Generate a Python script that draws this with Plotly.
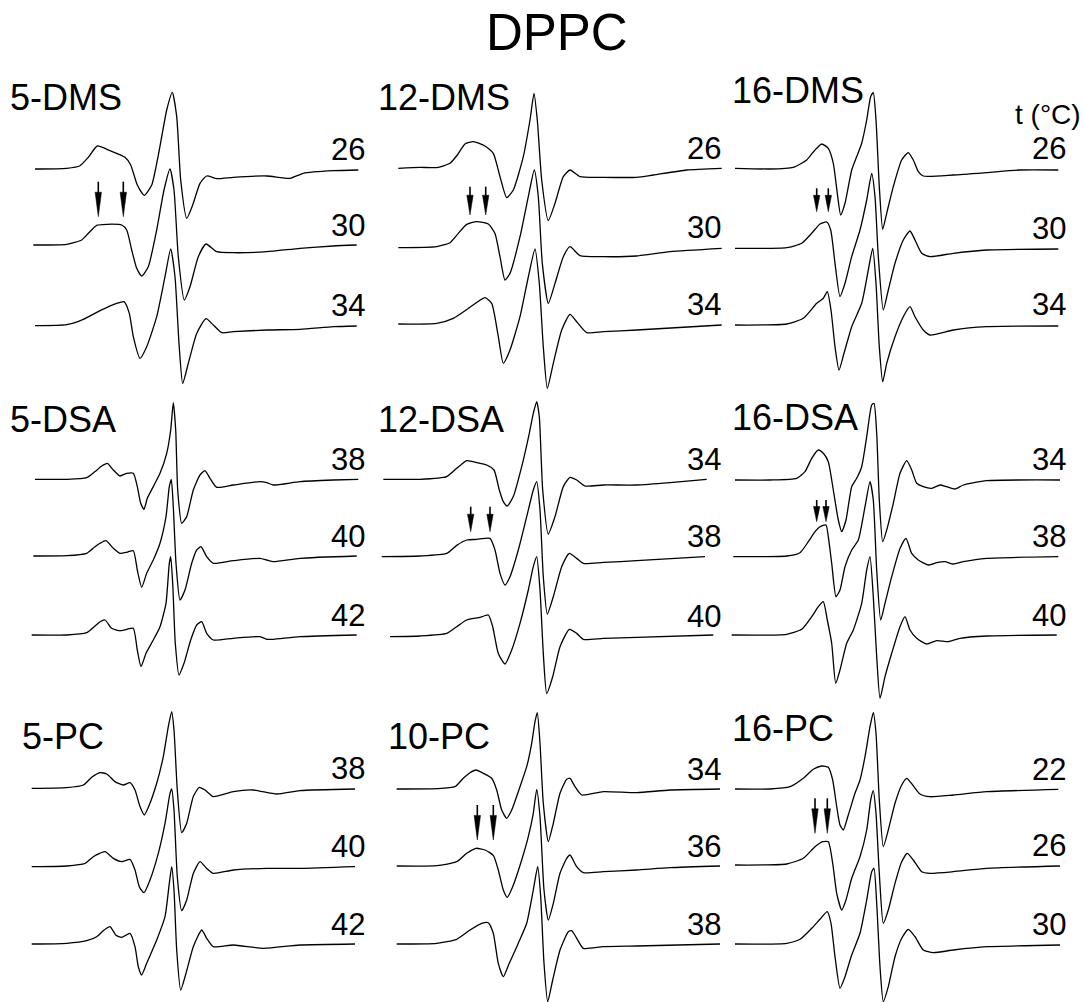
import plotly.graph_objects as go

FIG_W, FIG_H = 1084, 1002

# ---------------- data (x: field position, y: signal amplitude) ----------------
# 5-DMS
x_dms5_26 = [35, 66.7, 80, 88.3, 97.3, 110, 125, 130.7, 137.3, 144.3, 151.7, 159.3, 166.7, 172.3, 176.7, 180.7, 186.7, 192.7, 200, 206.7, 216.7, 233.3, 266.7, 290, 303.3, 333.3, 358.3]
y_dms5_26 = [0, 0.7, 3.3, 11.7, 23, 18.3, 11.7, 4, -16, -26.3, -16, 19, 59, 76.7, 52.3, -11, -49.3, -36, -14.3, -7, -9.7, -8.3, -7, -9.3, -4.3, -1.7, -1]
x_dms5_30 = [33.3, 66.7, 81.7, 88.3, 96.7, 106.7, 121.7, 126.7, 131.7, 136.7, 141.7, 148.3, 156.7, 164, 170, 174, 178.3, 184.3, 190, 198.3, 206, 216.7, 233.3, 266.7, 300, 333.3, 356.7]
y_dms5_30 = [0, 0.7, 5, 11.7, 19.7, 20.7, 20, 15, -5, -23.3, -31, -21.7, 15, 55, 76, 55, -11.7, -55, -41.7, -11.7, 1, -6.7, -7.7, -6.7, -3.3, -1, 0]
x_dms5_34 = [35, 66.7, 83.3, 100, 116.7, 124, 129.3, 133.3, 140, 146.7, 156.7, 165, 170.7, 175, 179, 182.7, 188.3, 196.7, 206, 213.3, 221.7, 233.3, 266.7, 300, 333.3, 356.7]
y_dms5_34 = [0, 1, 6.3, 15, 22.3, 24, 12.3, -11, -32.7, -21, 9, 49, 76.7, 49, -17.7, -57.7, -37.7, -7.7, 7, 0.7, -7, -6, -4.3, -3.7, -1, -0.3]

# 12-DMS
x_dms12_26 = [28.3, 50, 66.7, 80, 87.3, 95, 103.3, 115, 123.3, 130, 136.7, 143.3, 153.3, 160, 164, 167.3, 171.7, 178.3, 185, 193.3, 200, 210, 233.3, 266.7, 283.3, 316.7, 351.7]
y_dms12_26 = [0, 1, 0.7, 5, 13.3, 24.3, 26.7, 22.3, 15, -8.3, -29.3, -21.7, 11.7, 48.3, 75, 48.3, -11.7, -52.3, -35, -8.3, -1.7, -8.3, -9, -9, -6.7, -1.7, 0]
x_dms12_30 = [28.3, 66.7, 80, 88.3, 96.7, 106.7, 118.3, 125, 130, 135, 140, 150, 158.3, 164.3, 168.3, 172.3, 178.3, 185, 193.3, 200, 210, 233.3, 266.7, 300, 351.7]
y_dms12_30 = [0, 1, 5, 14.3, 23.3, 26, 23.7, 14.3, -9, -32.3, -25.7, 11, 51, 77.7, 51, -15.7, -55.7, -35.7, -9, 1, -8, -9, -8.3, -4, -0.7]
x_dms12_34 = [28.3, 66.7, 83.3, 100, 115, 121.7, 128.3, 133.3, 140, 150, 158.3, 165, 169.3, 173.3, 177.3, 183.3, 191.7, 200, 206.7, 216.7, 233.3, 266.7, 351.7]
y_dms12_34 = [0, 0.7, 5.7, 16.7, 26.3, 20.7, -12.7, -39.3, -26, 7.3, 47, 75, 40.7, -22.7, -64.3, -39.3, -6, 9.7, 2.3, -8.7, -7.7, -6, -1]

# 16-DMS
x_dms16_26 = [15, 50, 73.3, 86.7, 95, 101.7, 108.3, 113.3, 117.3, 120.7, 125, 131.7, 136.7, 141.7, 146.7, 150.7, 153.3, 156, 159.3, 162.7, 166.7, 173.3, 181.7, 188.3, 193.3, 198.3, 203.3, 233.3, 266.7, 300, 338.3]
y_dms16_26 = [0, -0.7, 1, 8.3, 18.3, 24.3, 20, 5, -25, -46.7, -35, -1.7, 11.7, 25, 48.3, 71.7, 75.7, 48.3, -18.3, -61, -45, -18.3, 8.3, 15.7, 8.3, -3.3, -7.7, -6.7, -4.3, -1.7, -1.7]
x_dms16_30 = [15, 66.7, 81.7, 91.7, 100, 106.7, 110.7, 115, 120, 125, 131.7, 140, 146.7, 151.7, 155, 158.3, 163.3, 168.3, 175, 183.3, 190, 195, 201.7, 210, 233.3, 266.7, 338.3]
y_dms16_30 = [0, 0.7, 5, 15, 24.3, 26.3, 18.3, -15, -48.3, -35, -8.3, 18.3, 48.3, 75, 51.7, -8.3, -61.7, -41.7, -15, 8.3, 17.3, 8.3, -5, -8.3, -5, -1.7, -0.7]
x_dms16_34 = [15, 66.7, 83.3, 96.7, 103.3, 107.3, 111, 115, 119, 124, 131.7, 141.7, 148.3, 152.7, 156, 159.3, 162.7, 166.7, 175, 183.3, 190, 195, 203.3, 210, 233.3, 266.7, 338.3]
y_dms16_34 = [0, 1, 6.7, 21.7, 26.7, 33.3, 15, -21.7, -45, -28.3, -1.7, 21.7, 55, 76.7, 41.7, -21.7, -56.7, -38.3, -11.7, 8.3, 18.3, 8.3, -5, -10, -5, -1.7, -1]

# 5-DSA
x_dsa5_38 = [35, 66.7, 86.7, 95, 101.7, 107.3, 113.3, 120, 126.7, 133.3, 137.3, 140.7, 144, 147.3, 153.3, 160, 166.7, 170.7, 173.3, 175.7, 177.7, 181.7, 186.7, 193.3, 200, 205, 210, 216.7, 233.3, 260, 266.7, 273.3, 300, 333.3, 358.3]
y_dsa5_38 = [0, 0, 1.7, 7.7, 13.3, 16, 9.3, 3.3, 6, 6, -7.3, -24, -30, -19, -7.3, 6, 26, 49.3, 76.7, 49.3, -10.7, -44, -37.3, -10.7, 4.3, 8.7, 1, -8, -5.7, -2.3, -3.3, -5.7, -2.3, -0.7, 0]
x_dsa5_40 = [33.3, 66.7, 86.7, 95, 100, 106, 113.3, 120, 126.7, 133.3, 137.3, 141.7, 146.7, 153.3, 160, 166, 169.3, 171.3, 173.3, 176, 180, 185, 191.7, 196.7, 201, 206.7, 213.3, 233.3, 260, 266.7, 273.3, 300, 356.7]
y_dsa5_40 = [0, 0.3, 2.7, 9.3, 12.7, 15.3, 7.7, 2.7, 3.7, 5.3, -14, -31.3, -17.3, -4, 12.7, 39.3, 69.3, 76.7, 49.3, -7.3, -44, -34, -7.3, 6, 9.3, -0.7, -7.3, -4.7, -2.3, -4, -5.7, -2.3, 0]
x_dsa5_42 = [31.7, 66.7, 86.7, 95, 100, 105, 111.7, 120, 126.7, 133.3, 137.3, 141, 146, 153.3, 160, 166, 169.3, 170.7, 172.7, 175.3, 179, 184, 190.7, 196.7, 201.7, 206.7, 213.3, 233.3, 260, 266.7, 273.3, 300, 356.7]
y_dsa5_42 = [0, 0, 2.3, 9, 13.3, 15, 6.7, 4.3, 5.7, 6.7, -15, -31.7, -18.3, -5, 8.3, 31.7, 71.7, 78.3, 51.7, -8.3, -40, -28.3, -5, 10, 13.3, 1.7, -5, -3.3, -1.7, -4.3, -4.3, -1.7, 0]

# 12-DSA
x_dsa12_34 = [13.3, 50, 76.7, 86.7, 96.7, 106.7, 116.7, 124, 129.3, 133.3, 137.3, 143.3, 151.7, 159.3, 163.3, 166.7, 169.3, 172.7, 178.3, 185, 193.3, 200, 206.7, 215, 233.3, 266.7, 300, 336.7]
y_dsa12_34 = [0, 0, 2.7, 11, 18.7, 16.7, 14.3, 9.3, -10.7, -22.3, -26.7, -17.3, 12.7, 46, 66, 77.7, 62.7, -10.7, -54.7, -37.3, -7.3, 2, -0.7, -6.7, -5.7, -5.7, -3.3, 0]
x_dsa12_38 = [11.7, 50, 76.7, 86.7, 96.7, 106.7, 120, 125, 130, 135, 140, 148.3, 156.7, 163.3, 166.7, 170, 173.3, 177.3, 183.3, 191.7, 199.3, 206.7, 213.3, 233.3, 266.7, 335]
y_dsa12_38 = [0, 0.7, 3.3, 11.3, 16.7, 17.3, 18.3, 6.7, -16.7, -28.3, -20, 6.7, 40, 66.7, 75, 46.7, -20, -57.3, -40, -10, 3.3, -1.7, -6.7, -5.7, -4, 0]
x_dsa12_40 = [20, 50, 76.7, 86.7, 96.7, 110, 118.3, 122.7, 128.3, 135, 141.7, 150, 158.3, 163.3, 166.7, 170, 173.3, 176.7, 182.7, 190, 199.3, 206.7, 213.3, 233.3, 266.7, 343.3]
y_dsa12_40 = [0, 0.7, 3.3, 10, 16.7, 19.3, 21.7, 10, -16.7, -27.3, -13.3, 13.3, 46.7, 70, 80, 46.7, -16.7, -56.7, -40, -10, 7.3, 3.3, -2.7, -1.7, -0.7, 1.7]

# 16-DSA
x_dsa16_34 = [15, 50, 76.7, 85, 91.7, 98.3, 103.3, 108.3, 113.3, 118.3, 121.7, 126, 131.7, 136.7, 141.7, 146.7, 151.7, 154, 156.7, 159.3, 162.7, 166.7, 173.3, 180, 186.7, 191.7, 196.7, 203.3, 211.7, 220, 226.7, 235, 243.3, 266.7, 340]
y_dsa16_34 = [0, 0, 1.7, 8.3, 21.7, 30, 26.7, 18.3, -10, -40, -51.7, -40, -6.7, 1.7, 13.3, 43.3, 75, 76.7, 46.7, -20, -61.7, -50, -23.3, 6.7, 19.3, 10, -3.3, -6.7, -8.3, -5, -6.7, -9, -5, -0.7, 0]
x_dsa16_38 = [13.3, 66.7, 80, 88.3, 95, 100, 106, 108.3, 111.7, 116, 120, 125, 131.7, 138.3, 145, 150, 153.3, 156.7, 160.7, 165, 171.7, 180, 186, 191.7, 198.3, 208.3, 216.7, 225, 233.3, 243.3, 266.7, 338.3]
y_dsa16_38 = [0, 0.7, 4, 15, 25, 30, 31.7, 20, -6.7, -40, -33.3, -10, 6.7, 16.7, 50, 75, 56.7, -13.3, -63.3, -46.7, -20, 8.3, 18.3, 3.3, -3.3, -8.3, -6, -5, -7.3, -5, -1.7, 0]
x_dsa16_40 = [11.7, 66.7, 81.7, 91.7, 98.3, 103.3, 107.3, 111.7, 115.7, 120, 126.7, 133.3, 141.7, 146.7, 150, 153.3, 156.7, 160, 165, 171.7, 180, 185, 190, 196.7, 206.7, 216.7, 228.3, 240, 266.7, 336.7]
y_dsa16_40 = [0, 0.7, 5.7, 18.3, 28.3, 33.3, 15, -8.3, -48.3, -35, -8.3, 5, 31.7, 65, 78.3, 38.3, -21.7, -63.3, -41.7, -18.3, 8.3, 18.3, 5, -3.3, -9, -5.7, -6.7, -3.3, -1, 0]

# 5-PC
x_pc5_38 = [31.7, 66.7, 83.3, 91.7, 100, 106.7, 115, 123.3, 130, 135, 140, 144.3, 149.3, 156.7, 163.3, 168.3, 171.7, 174, 177.3, 181.7, 186.7, 193.3, 199.3, 205, 213.3, 233.3, 253.3, 276.7, 300, 355]
y_pc5_38 = [0, 0.7, 3.3, 11, 15.7, 14.3, 6.7, 3.3, 5.7, -1.7, -18.3, -26.7, -16.7, 5, 31.7, 61.7, 76.7, 58.3, -1.7, -44.3, -35, -8.3, 1, -1.7, -8.3, -3.3, -1.7, -5.7, -2.3, -0.7]
x_pc5_40 = [31.7, 66.7, 85, 93.3, 105, 113.3, 121.7, 130, 135, 139.3, 144, 150, 158.3, 165, 170, 171.7, 174, 177.3, 181.7, 186.7, 193.3, 200, 206.7, 213.3, 233.3, 266.7, 300, 355]
y_pc5_40 = [0, 0.7, 3.3, 10, 15, 8.3, 5, 7.3, -3.3, -20, -26, -13.3, 13.3, 43.3, 73.3, 77.7, 56.7, -10, -44, -33.3, -6.7, 5, -1.7, -6.7, -3.3, -1.7, -1.7, 0]
x_pc5_42 = [31.7, 66.7, 86.7, 96.7, 103.3, 110, 116, 121.7, 130, 135, 138.3, 141.7, 146.7, 156.7, 165, 169.3, 171.7, 174, 176.7, 180.7, 186, 193.3, 201.7, 206.7, 213.3, 233.3, 263.3, 300, 355]
y_pc5_42 = [0, 0.7, 3.3, 7.3, 13.3, 17.3, 8.7, 6.7, 10.7, -2.7, -22.7, -31, -19.3, 4, 27.3, 60.7, 77.3, 54, -6, -46, -29.3, -2.7, 14, 5.7, -2.7, -1, -4.3, -1, 0]

# 10-PC
x_pc10_34 = [26.7, 66.7, 85, 93.3, 100, 106, 113.3, 121.7, 126.7, 131.7, 136.7, 141.7, 150, 156.7, 161.7, 165, 167.3, 170, 173.3, 178.3, 183.3, 190, 196.7, 200, 205, 211.7, 233.3, 266.7, 300, 350]
y_pc10_34 = [0, 0.3, 2.3, 10.7, 16.3, 19, 15.7, 10.7, -1, -21, -29.3, -21, 2.3, 22.3, 45.7, 67.3, 76.3, 45.7, -14.3, -52.7, -34.3, -4.3, 9.7, 10.7, 2.3, -6, -2.7, -3.7, -1, 0]
x_pc10_36 = [26.7, 66.7, 86.7, 96.7, 106, 115, 123.3, 128.3, 133.3, 137.3, 142.7, 151.7, 158.3, 163.3, 166.7, 170, 174, 178.3, 183.3, 190, 196.7, 200, 206.7, 213.3, 233.3, 266.7, 300, 350]
y_pc10_36 = [0, 0.3, 4.3, 12.7, 17.7, 16, 10.7, -4, -24, -31.3, -20.7, 6, 29.3, 52.7, 76.7, 49.3, -24, -54, -37.3, -7.3, 7.7, 11, -0.7, -6.7, -5.7, -4, -1.7, 0]
x_pc10_38 = [26.7, 66.7, 86.7, 100, 111.7, 118.3, 123.3, 128.3, 133.3, 139.3, 148.3, 156.7, 163.3, 167.7, 170.7, 174, 177.7, 182.7, 190, 198.3, 201.7, 206.7, 213.3, 233.3, 266.7, 350]
y_pc10_38 = [0, 0.7, 4.7, 14, 20.7, 21.3, 10.7, -19.3, -32.7, -19.3, 0.7, 20.7, 54, 77.3, 47.3, -19.3, -57.7, -36, -6, 12.3, 13.3, 5.7, -4.3, -2.7, -2, 0]

# 16-PC
x_pc16_22 = [15, 50, 70, 83.3, 93.3, 101.7, 108.3, 112.7, 116.7, 120, 123.3, 128.3, 135, 140, 145, 150, 153.3, 156, 159.3, 163.3, 168.3, 175, 181.7, 186.7, 192.7, 200, 210, 233.3, 266.7, 338.3]
y_pc16_22 = [0, 0, 2.3, 10.7, 19.7, 23, 21.7, 9, -17.7, -36, -41, -26, -4.3, 9, 32.3, 62.3, 76.3, 55.7, -11, -57.7, -41, -14.3, 4, 10.7, 4, -5, -7.7, -6, -2.7, -0.3]
x_pc16_26 = [15, 66.7, 83.3, 95, 102.7, 108.3, 112.7, 116.7, 121.7, 126, 131.7, 140, 146.7, 150.7, 153.3, 156, 159.3, 163.3, 168.3, 175, 181.7, 187.3, 193.3, 201.7, 210, 233.3, 266.7, 340]
y_pc16_26 = [0, 1, 6.7, 18.3, 23.3, 23.3, 1.7, -28.3, -45, -35, -13.3, 8.3, 35, 65, 74.3, 51.7, -8.3, -58.3, -45, -18.3, 3.3, 11.7, 5, -6.7, -8.3, -6.7, -3.3, -1]
x_pc16_30 = [15, 66.7, 80, 91.7, 100, 107.3, 111, 115, 120, 125, 131.7, 140, 146.7, 151.7, 154, 156.7, 160, 163.3, 168.3, 175, 181.7, 188.3, 195, 203.3, 213.3, 233.3, 266.7, 340]
y_pc16_30 = [0, 0.7, 4.7, 15.7, 24.7, 32.3, 20.7, -12.7, -44.3, -32.7, -11, 10.7, 44, 72.3, 75.7, 40.7, -22.7, -57.7, -42.7, -12.7, 5.7, 14.7, 7.3, -6, -8.7, -6, -2.7, -1]

# labels
probe_names = ["5-DMS", "12-DMS", "16-DMS", "5-DSA", "12-DSA", "16-DSA", "5-PC", "10-PC", "16-PC"]
temps = [["26", "30", "34"], ["26", "30", "34"], ["26", "30", "34"],
         ["38", "40", "42"], ["34", "38", "40"], ["34", "38", "40"],
         ["38", "40", "42"], ["34", "36", "38"], ["22", "26", "30"]]
spectra = [
    [(x_dms5_26, y_dms5_26), (x_dms5_30, y_dms5_30), (x_dms5_34, y_dms5_34)],
    [(x_dms12_26, y_dms12_26), (x_dms12_30, y_dms12_30), (x_dms12_34, y_dms12_34)],
    [(x_dms16_26, y_dms16_26), (x_dms16_30, y_dms16_30), (x_dms16_34, y_dms16_34)],
    [(x_dsa5_38, y_dsa5_38), (x_dsa5_40, y_dsa5_40), (x_dsa5_42, y_dsa5_42)],
    [(x_dsa12_34, y_dsa12_34), (x_dsa12_38, y_dsa12_38), (x_dsa12_40, y_dsa12_40)],
    [(x_dsa16_34, y_dsa16_34), (x_dsa16_38, y_dsa16_38), (x_dsa16_40, y_dsa16_40)],
    [(x_pc5_38, y_pc5_38), (x_pc5_40, y_pc5_40), (x_pc5_42, y_pc5_42)],
    [(x_pc10_34, y_pc10_34), (x_pc10_36, y_pc10_36), (x_pc10_38, y_pc10_38)],
    [(x_pc16_22, y_pc16_22), (x_pc16_26, y_pc16_26), (x_pc16_30, y_pc16_30)],
]
# marked doubled peak positions (field) in the middle spectrum; None = no arrows
arrow_fields = [[98.3, 123.3], [100, 115.7], [96.7, 108.3], None, [100.7, 120], [96.7, 106], None, [107.3, 123.3], [95, 107.3]]

# ---------------- layout constants ----------------
col_region = [(0, 370), (370, 724), (724, 1084)]
col_origin = [0, 370, 720]
row_region = [(58, 392), (392, 700), (700, 1002)]
row_origin = [70, 390, 690]
# vertical offsets (px below row origin) of each spectrum's baseline
offsets = [[99, 175, 255.7], [98.3, 177.7, 254], [98.3, 178.3, 255],
           [89.3, 166, 245], [89.3, 166.7, 246.7], [90, 166.7, 245],
           [98.3, 176.7, 254], [99, 176, 254], [99, 175, 254]]
arrow_y = [(111.7, 146.7), (116.7, 145), (118.3, 141.7), None, (116.7, 141.7), (110, 131.7), None, (115, 150), (108.3, 143.3)]
title_pos = [(8, 85), (376, 85), (730, 78), (8, 407), (376, 407), (730, 405), (20, 724), (386, 724), (730, 716)]
label_right = [367, 723, 1068]

FONT = "Liberation Sans, Arial, Helvetica, sans-serif"

fig = go.Figure()
layout_axes = {}
shapes = []
annotations = []


def px(xa):
    return xa / FIG_W


def py(ya):
    return 1 - ya / FIG_H


for i in range(9):
    r, c = divmod(i, 3)
    k = i + 1
    xs = "" if k == 1 else str(k)
    cx0, cx1 = col_region[c]
    ry0, ry1 = row_region[r]
    ox, oy = col_origin[c], row_origin[r]
    layout_axes["xaxis" + xs] = dict(domain=[cx0 / FIG_W, cx1 / FIG_W], range=[cx0 - ox, cx1 - ox],
                                     visible=False, fixedrange=True, anchor="y" + xs)
    layout_axes["yaxis" + xs] = dict(domain=[1 - ry1 / FIG_H, 1 - ry0 / FIG_H], range=[-(ry1 - oy), -(ry0 - oy)],
                                     visible=False, fixedrange=True, anchor="x" + xs)
    for j, (xv, yv) in enumerate(spectra[i]):
        off = offsets[i][j]
        fig.add_trace(go.Scatter(
            x=xv, y=[v - off for v in yv], mode="lines",
            line=dict(color="black", width=1.3, shape="spline", smoothing=0.55),
            xaxis="x" + xs, yaxis="y" + xs, hoverinfo="skip", showlegend=False))
        # temperature label
        annotations.append(dict(
            text=temps[i][j], x=px(label_right[c]), y=py(oy + off - 20),
            xref="paper", yref="paper", xanchor="right", yanchor="middle", showarrow=False,
            font=dict(family=FONT, size=31, color="black")))
    # probe title
    tx, ty = title_pos[i]
    annotations.append(dict(
        text=probe_names[i], x=px(tx), y=py(ty + 12), xref="paper", yref="paper",
        xanchor="left", yanchor="middle", showarrow=False,
        font=dict(family=FONT, size=36, color="black")))
    # arrows
    if arrow_fields[i]:
        top, tip = arrow_y[i]
        head = 0.7 * (tip - top)
        for xa in arrow_fields[i]:
            shapes.append(dict(type="line", xref="x" + xs, yref="y" + xs,
                               x0=xa, x1=xa, y0=-top, y1=-(tip - head + 1),
                               line=dict(color="black", width=1.6)))
            shapes.append(dict(type="path", xref="x" + xs, yref="y" + xs,
                               path=f"M {xa - 3.2},{-(tip - head)} L {xa + 3.2},{-(tip - head)} L {xa},{-tip} Z",
                               fillcolor="black", line=dict(color="black", width=0.5)))

annotations.append(dict(text="DPPC", x=px(557), y=py(33), xref="paper", yref="paper",
                        xanchor="center", yanchor="middle", showarrow=False,
                        font=dict(family=FONT, size=51, color="black")))
annotations.append(dict(text="t (°C)", x=px(1083), y=py(114), xref="paper", yref="paper",
                        xanchor="right", yanchor="middle", showarrow=False,
                        font=dict(family=FONT, size=28, color="black")))

fig.update_layout(
    width=FIG_W, height=FIG_H, autosize=False,
    margin=dict(l=0, r=0, t=0, b=0, pad=0),
    paper_bgcolor="white", plot_bgcolor="white",
    showlegend=False, shapes=shapes, annotations=annotations,
    **layout_axes)

fig.write_html("out.html", config={"displayModeBar": False})
